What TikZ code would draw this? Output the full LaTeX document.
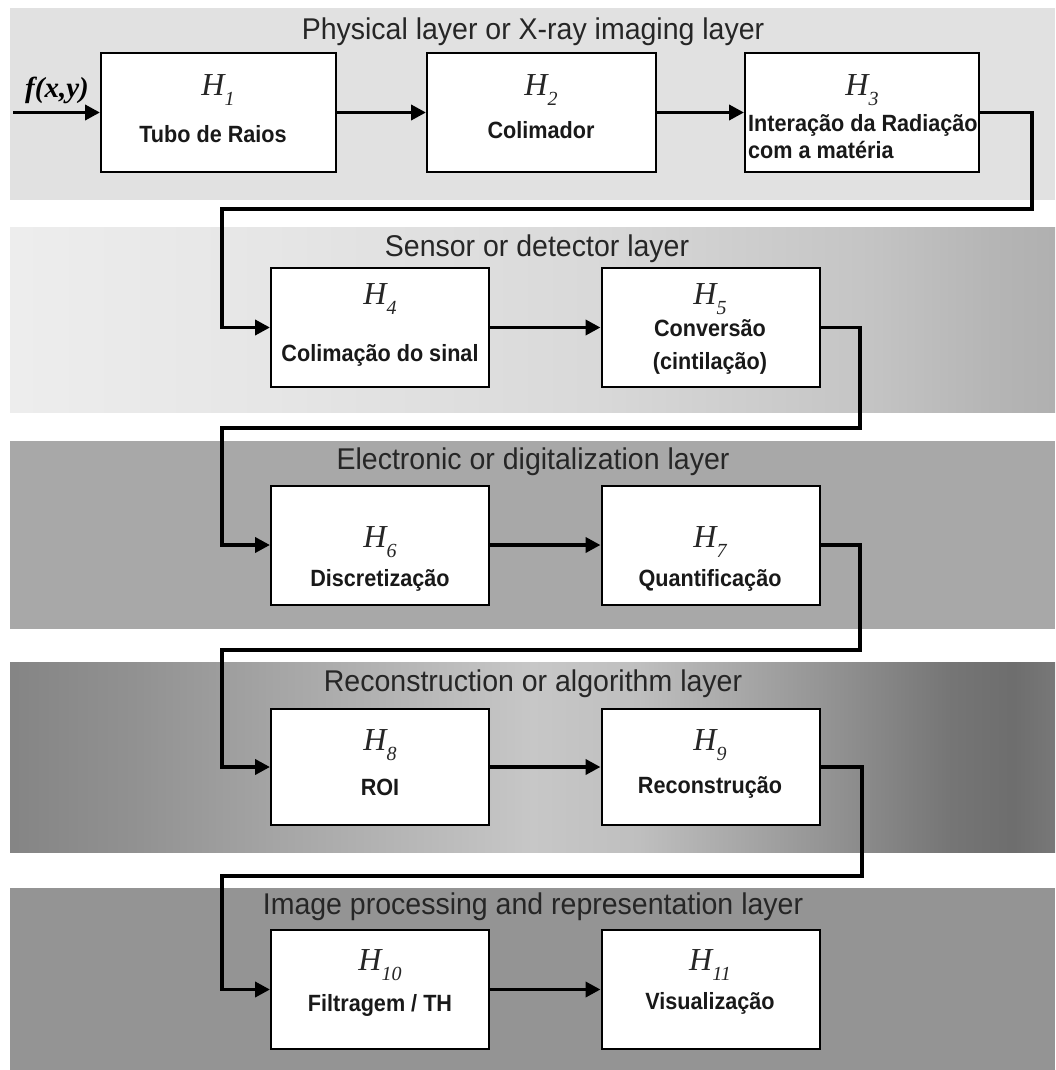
\documentclass[tikz,border=0pt]{standalone}
\usepackage{fontspec}
\setmainfont{Liberation Sans}
\newfontfamily\titlefont[FakeStretch=0.95]{Liberation Sans}
\newfontfamily\boxfont[FakeStretch=0.92]{Liberation Sans}
\newfontfamily\hfont{Liberation Serif}
\usetikzlibrary{arrows.meta}
\definecolor{bandone}{HTML}{E1E1E1}
\definecolor{bandthree}{HTML}{A8A8A8}
\definecolor{bandfive}{HTML}{949494}
\definecolor{titlegray}{HTML}{262626}
\pgfdeclarehorizontalshading{bandtwoshade}{100bp}{color(0bp)=(black!7); color(25bp)=(black!7); color(38bp)=(black!10); color(53bp)=(black!15); color(66bp)=(black!23); color(72bp)=(black!29); color(75bp)=(black!31); color(100bp)=(black!31)}
\pgfdeclarehorizontalshading{bandfourshade}{100bp}{color(0bp)=(black!48); color(25bp)=(black!48); color(31bp)=(black!43); color(38bp)=(black!35); color(50bp)=(black!22); color(55bp)=(black!25); color(64bp)=(black!42); color(70bp)=(black!54); color(73bp)=(black!57); color(75bp)=(black!53); color(100bp)=(black!53)}
\newcommand\Hsub[1]{H\raisebox{-0.3em}{\fontsize{20}{20}\selectfont #1}}
\tikzset{
  blk/.style={draw=black, line width=2pt, fill=white, inner sep=0pt, minimum height=119},
  wideblk/.style={blk, minimum width=233},
  narrowblk/.style={blk, minimum width=218},
  layertitle/.style={font=\titlefont\fontsize{30}{32}\selectfont, text=titlegray, inner sep=0pt},
  hlab/.style={font=\hfont\itshape\fontsize{32}{32}\selectfont, text=titlegray, inner sep=0pt},
  txt/.style={font=\boxfont\bfseries\fontsize{23.5}{27}\selectfont, text=black!90, inner sep=0pt},
  conn/.style={draw=black, line width=3.8pt, -{Triangle[length=15pt,width=15pt]}},
}
\begin{document}
\begin{tikzpicture}[x=1pt,y=-1pt]
\useasboundingbox (0,0) rectangle (1055,1070);
\fill[white] (0,0) rectangle (1055,1070);
% layer bands
\fill[bandone] (10,8) rectangle (1055,200);
\shade[shading=bandtwoshade] (10,227) rectangle (1055,412);
\fill[bandthree] (10,441) rectangle (1055,629);
\shade[shading=bandfourshade] (10,662) rectangle (1055,852);
\fill[bandfive] (10,888) rectangle (1055,1070);
% layer titles
\node[layertitle] (t1) at (533,32) {Physical layer or X-ray imaging layer};
\node[layertitle] (t2) at (537,249) {Sensor or detector layer};
\node[layertitle] (t3) at (533,462) {Electronic or digitalization layer};
\node[layertitle] (t4) at (533,684) {Reconstruction or algorithm layer};
\node[layertitle] (t5) at (533,907) {Image processing and representation layer};
% blocks
\node[wideblk, minimum width=235] (h1) at (218.5,112.5) {};
\node[wideblk, minimum width=229] (h2) at (541.5,112.5) {};
\node[wideblk, minimum width=234] (h3) at (862,112.5) {};
\node[narrowblk] (h4) at (380,327.5) {};
\node[narrowblk] (h5) at (710.5,327.5) {};
\node[narrowblk] (h6) at (380,545) {};
\node[narrowblk] (h7) at (710.5,545) {};
\node[narrowblk, minimum height=116] (h8) at (380,767) {};
\node[narrowblk, minimum height=116] (h9) at (710.5,767) {};
\node[narrowblk] (h10) at (380,989.5) {};
\node[narrowblk] (h11) at (710.5,989.5) {};
% block symbols
\node[hlab] (l1) at (218,90) {\Hsub{1}};
\node[hlab] (l2) at (541,90) {\Hsub{2}};
\node[hlab] (l3) at (862,90) {\Hsub{3}};
\node[hlab] (l4) at (380,299) {\Hsub{4}};
\node[hlab] (l5) at (710,299) {\Hsub{5}};
\node[hlab] (l6) at (380,542) {\Hsub{6}};
\node[hlab] (l7) at (710,542) {\Hsub{7}};
\node[hlab] (l8) at (380,745) {\Hsub{8}};
\node[hlab] (l9) at (710,745) {\Hsub{9}};
\node[hlab] (l10) at (380,965) {\Hsub{10}};
\node[hlab] (l11) at (710,965) {\Hsub{11}};
% block texts
\node[txt] (b1) at (213,134) {Tubo de Raios};
\node[txt] (b2) at (541,130) {Colimador};
\node[txt, anchor=west, align=left] (b3) at (748,137) {Interação da Radiação\\com a matéria};
\node[txt] (b4) at (380,355) {Colimação do sinal};
\node[txt, align=center, font=\boxfont\bfseries\fontsize{23.5}{33}\selectfont] (b5) at (710,347) {Conversão\\(cintilação)};
\node[txt] (b6) at (380,580) {Discretização};
\node[txt] (b7) at (710,580) {Quantificação};
\node[txt] (b8) at (380,787) {ROI};
\node[txt] (b9) at (710,787) {Reconstrução};
\node[txt] (b10) at (380,1005) {Filtragem / TH};
\node[txt] (b11) at (710,1003) {Visualização};
% input
\coordinate (src) at (13,112.5);
\node[font=\hfont\bfseries\itshape\fontsize{29}{29}\selectfont, inner sep=0pt] (fxy) at (57,90) {f(x,y)};
% turning points
\coordinate (k1) at (1032,209);
\coordinate (k2) at (222,209);
\coordinate (k3) at (860,428);
\coordinate (k4) at (222,428);
\coordinate (k5) at (860,650);
\coordinate (k6) at (222,650);
\coordinate (k7) at (862,876);
\coordinate (k8) at (222,876);
% connectors
\draw[conn] (src) -- (h1.west);
\draw[conn] (h1.east) -- (h2.west);
\draw[conn] (h2.east) -- (h3.west);
\draw[conn] (h3.east) -| (k1) -- (k2) |- (h4.west);
\draw[conn] (h4.east) -- (h5.west);
\draw[conn] (h5.east) -| (k3) -- (k4) |- (h6.west);
\draw[conn] (h6.east) -- (h7.west);
\draw[conn] (h7.east) -| (k5) -- (k6) |- (h8.west);
\draw[conn] (h8.east) -- (h9.west);
\draw[conn] (h9.east) -| (k7) -- (k8) |- (h10.west);
\draw[conn] (h10.east) -- (h11.west);
\end{tikzpicture}
\end{document}
